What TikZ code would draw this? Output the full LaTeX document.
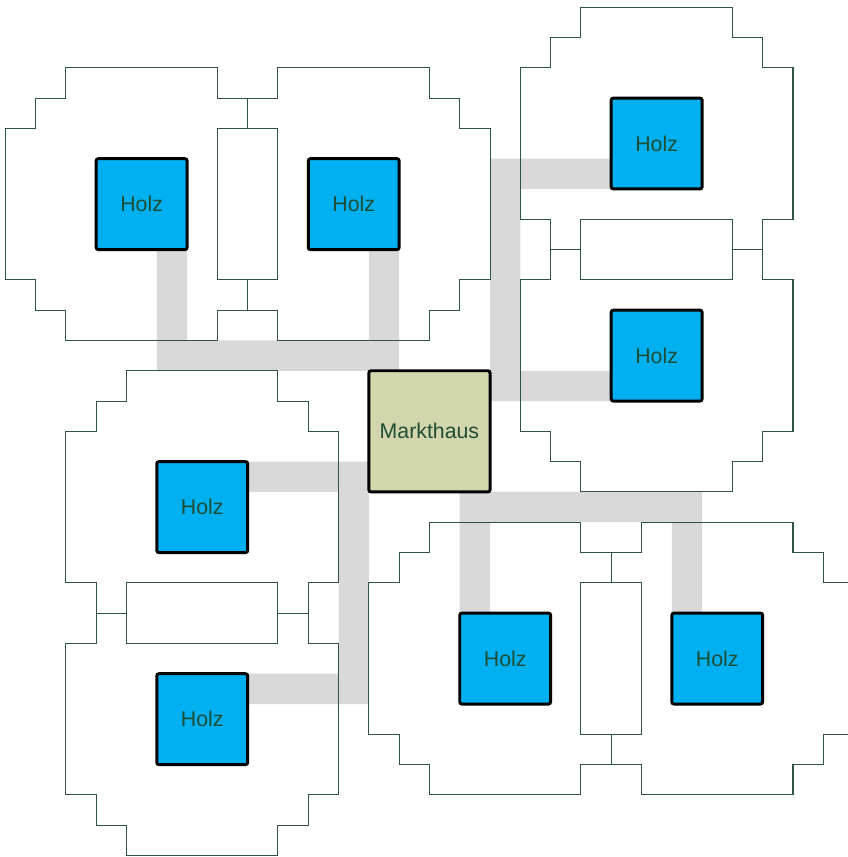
\documentclass[tikz,border=0pt]{standalone}
\usepackage{fontspec}
\setmainfont{Liberation Sans}
\usepackage{tikz}
\usetikzlibrary{backgrounds}
\definecolor{holzblue}{HTML}{00B0F0}
\definecolor{marktbeige}{HTML}{D3D5AD}
\definecolor{randgreen}{HTML}{2D5541}
\definecolor{schriftgreen}{HTML}{1F4E36}
\definecolor{wegegrau}{HTML}{D9D9D9}
\tikzset{
  % Rohstofffelder
  holz/.style={
    rectangle, rounded corners=1pt, minimum size=1.5cm, inner sep=0pt, outer sep=0pt,
    draw=black, fill=holzblue, text=schriftgreen, line width=1.4pt,
    font=\fontsize{10}{12}\selectfont,
  },
  % Markthaus in der Mitte
  markt/.style={
    holz, minimum size=2cm, fill=marktbeige,
  },
  % Umriss einer Parzelle
  parzelle/.style={draw=randgreen, line width=0.5pt},
  % Wege
  weg/.style={draw=wegegrau, line width=0.5cm},
}

\begin{document}
\begin{tikzpicture}[x=0.5cm, y=-0.5cm]
  \useasboundingbox (-0.175,-0.238) rectangle (27.81,28.05);

  % Markthaus
  \node[markt] (markt) at (14,14) {Markthaus};

  % Holz
  \node[holz] (holzA) at (4.5,6.5) {Holz};
  \node[holz] (holzB) at (11.5,6.5) {Holz};
  \node[holz] (holzC) at (21.5,4.5) {Holz};
  \node[holz] (holzD) at (21.5,11.5) {Holz};
  \node[holz] (holzE) at (6.5,16.5) {Holz};
  \node[holz] (holzF) at (6.5,23.5) {Holz};
  \node[holz] (holzG) at (16.5,21.5) {Holz};
  \node[holz] (holzH) at (23.5,21.5) {Holz};

  \begin{scope}[on background layer]
    % Wege zum Markthaus
    \draw[weg] ([xshift=-0.25cm]holzA.south east) |- (12.5,11.5) -- ([xshift=-0.25cm]holzB.south east);
    \draw[weg] ([yshift=0.25cm]holzC.south west) -| (16.5,12.5) -- ([yshift=0.25cm]holzD.south west);
    \draw[weg] ([xshift=0.25cm]holzG.north west) |- (22.5,16.5) -- ([xshift=0.25cm]holzH.north west);
    \draw[weg] ([yshift=-0.25cm]holzE.north east) -| (11.5,22.5) -- ([yshift=-0.25cm]holzF.north east);

    % Parzellen
    \foreach \cx/\cy in {0/2, 7/2, 17/0, 17/7, 2/12, 2/19, 12/17, 19/17}
      \draw[parzelle, shift={(\cx,\cy)}]
        (2,0) -- (7,0) -- (7,1) -- (8,1) -- (8,2) -- (9,2) -- (9,7) -- (8,7)
        -- (8,8) -- (7,8) -- (7,9) -- (2,9) -- (2,8) -- (1,8) -- (1,7) -- (0,7)
        -- (0,2) -- (1,2) -- (1,1) -- (2,1) -- cycle;
  \end{scope}

\end{tikzpicture}
\end{document}
